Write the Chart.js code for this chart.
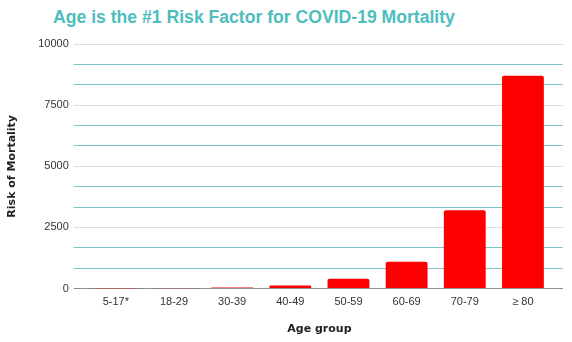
<!DOCTYPE html>
<html>
<head>
<meta charset="utf-8">
<script src="https://cdn.jsdelivr.net/npm/chart.js@4"></script>
<style>
  html, body { margin: 0; padding: 0; background: #fff; }
  #wrap { position: relative; width: 572px; height: 342px; }
  #title {
    position: absolute; left: 0; top: 7px; width: 508px;
    text-align: center; font: bold 17.6px "Liberation Sans", Arial, sans-serif;
    color: #4dbdbd; white-space: nowrap;
  }
  canvas { position: absolute; left: 0; top: 0; }
</style>
</head>
<body>
<div id="wrap">
  <div id="title">Age is the #1 Risk Factor for COVID-19 Mortality</div>
  <canvas id="chart" width="572" height="342"></canvas>
</div>
<script>
// Age groups and mortality risk relative to the 5-17 group
const ageGroups = ['5-17*', '18-29', '30-39', '40-49', '50-59', '60-69', '70-79', '≥ 80']
const mortalityRisk = [1, 15, 45, 130, 400, 1100, 3200, 8700]

// Labelled y ticks; two unlabelled lines sit between each pair
const majorTicks = [0, 2500, 5000, 7500, 10000]

const BASE_COLOR = '#8c8c8c'
const MAJOR_COLOR = '#dcdcdc'
const MINOR_COLOR = '#7cc5c9'

// every grid value: majors plus the thirds between them
function gridValues() {
  const values = []
  for (let i = 0; i < majorTicks.length; i++) {
    values.push(majorTicks[i])
    if (i < majorTicks.length - 1) {
      const step = (majorTicks[i + 1] - majorTicks[i]) / 3
      values.push(majorTicks[i] + step, majorTicks[i] + 2 * step)
    }
  }
  return values
}

function lineColor(ctx) {
  const v = ctx.tick ? ctx.tick.value : 0
  if (v === 0) return BASE_COLOR
  return majorTicks.includes(v) ? MAJOR_COLOR : MINOR_COLOR
}

const tickFont = { family: '"Liberation Sans", Arial, sans-serif', size: 11 }
const titleFont = { family: '"DejaVu Sans", Verdana, sans-serif', size: 11, weight: 'bold' }

const yShared = {
  min: 0,
  max: majorTicks[majorTicks.length - 1],
  afterBuildTicks: scale => {
    scale.ticks = gridValues().map(v => ({ value: v }))
  },
  border: { display: false },
  grid: {
    color: lineColor,
    tickColor: lineColor,
    lineWidth: 1
  }
}

new Chart(document.getElementById('chart'), {
  type: 'bar',
  data: {
    labels: ageGroups,
    datasets: [{
      label: 'Risk of Mortality',
      data: mortalityRisk,
      backgroundColor: '#ff0000',
      borderRadius: 2,
      borderSkipped: 'start'
    }]
  },
  options: {
    responsive: false,
    animation: false,
    layout: { padding: { top: 44, right: 9, left: 0, bottom: 0 } },
    plugins: {
      legend: { display: false },
      tooltip: { enabled: false }
    },
    scales: {
      x: {
        grid: { display: false, drawTicks: false },
        border: { display: true, color: BASE_COLOR, width: 1 },
        ticks: { font: tickFont, color: '#333', padding: 7, maxRotation: 0, autoSkip: false },
        title: {
          display: true, text: 'Age group', font: titleFont, color: '#222',
          padding: { top: 7, bottom: 6 }
        }
      },
      y: {
        ...yShared,
        position: 'left',
        grid: { ...yShared.grid, tickLength: 13 },
        ticks: {
          font: tickFont, color: '#333', padding: 5, autoSkip: false,
          callback: value => majorTicks.includes(value) ? String(value) : ''
        },
        title: {
          display: true, text: 'Risk of Mortality', font: titleFont, color: '#222',
          padding: { top: 6, bottom: 14 }
        }
      },
      yRight: {
        ...yShared,
        position: 'right',
        grid: { ...yShared.grid, tickLength: 11, drawOnChartArea: false },
        ticks: { display: false }
      }
    }
  }
})
</script>
</body>
</html>
